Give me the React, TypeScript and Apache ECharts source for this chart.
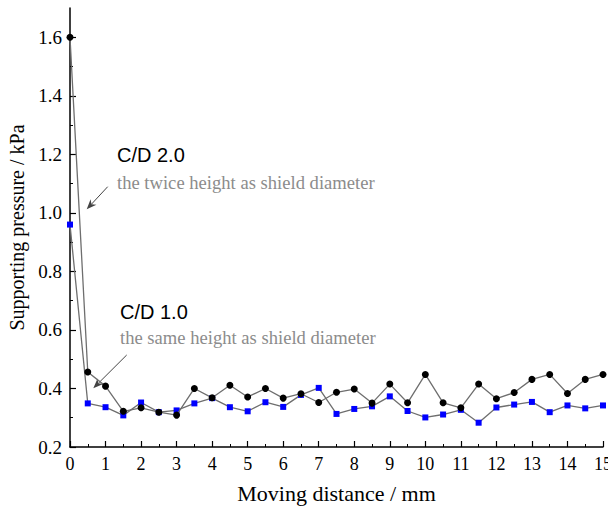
import React, { useEffect, useRef } from "react";
import * as echarts from "echarts";

const distances = [0, 0.5, 1, 1.5, 2, 2.5, 3, 3.5, 4, 4.5, 5, 5.5, 6, 6.5, 7, 7.5, 8, 8.5, 9, 9.5, 10, 10.5, 11, 11.5, 12, 12.5, 13, 13.5, 14, 14.5, 15];
const cd20 = [1.6, 0.456, 0.408, 0.322, 0.334, 0.319, 0.309, 0.4, 0.368, 0.411, 0.371, 0.4, 0.367, 0.382, 0.352, 0.387, 0.398, 0.35, 0.415, 0.351, 0.448, 0.351, 0.334, 0.415, 0.365, 0.386, 0.431, 0.448, 0.383, 0.431, 0.448];
const cd10 = [0.96, 0.349, 0.336, 0.308, 0.352, 0.319, 0.325, 0.349, 0.367, 0.336, 0.322, 0.353, 0.337, 0.378, 0.402, 0.313, 0.33, 0.339, 0.373, 0.323, 0.301, 0.311, 0.327, 0.283, 0.335, 0.345, 0.354, 0.319, 0.342, 0.332, 0.342];
const yMajorTicks = [0.2, 0.4, 0.6, 0.8, 1.0, 1.2, 1.4, 1.6];
const yMinorTicks = [0.3, 0.5, 0.7, 0.9, 1.1, 1.3, 1.5];

const serif = "'Liberation Serif', 'Times New Roman', serif";
const sans = "'Liberation Sans', Arial, sans-serif";

function arrow(x1: number, y1: number, x2: number, y2: number) {
  const dx = x2 - x1;
  const dy = y2 - y1;
  const len = Math.sqrt(dx * dx + dy * dy);
  const ux = dx / len;
  const uy = dy / len;
  const hl = 10;
  const hw = 4;
  const bx = x2 - ux * hl;
  const by = y2 - uy * hl;
  const nx = -uy;
  const ny = ux;
  const mx = x2 - ux * hl * 0.7;
  const my = y2 - uy * hl * 0.7;
  return [
    { type: "line", shape: { x1, y1, x2: mx, y2: my }, style: { stroke: "#444", lineWidth: 1 } },
    {
      type: "polygon",
      shape: { points: [[x2, y2], [bx + nx * hw, by + ny * hw], [mx, my], [bx - nx * hw, by - ny * hw]] },
      style: { fill: "#444" },
    },
  ];
}

export default function App() {
  const ref = useRef<HTMLDivElement>(null);
  useEffect(() => {
    if (!ref.current) return;
    const chart = echarts.init(ref.current, null, { renderer: "svg" });
    chart.setOption({
      animation: false,
      backgroundColor: "#fff",
      grid: { left: 70, right: 5, top: 8, bottom: 63, containLabel: false, outerBoundsMode: "none" },
      xAxis: {
        type: "value",
        min: 0,
        max: 15,
        interval: 1,
        name: "Moving distance / mm",
        nameLocation: "middle",
        nameGap: 35,
        nameTextStyle: { fontFamily: serif, fontSize: 22, color: "#000", verticalAlign: "top" },
        axisLine: { show: true, lineStyle: { color: "#000", width: 1.5 } },
        axisTick: { show: true, inside: true, length: 6, lineStyle: { color: "#000", width: 1.2 } },
        minorTick: { show: true, splitNumber: 2, length: 3, lineStyle: { color: "#000", width: 1 } },
        axisLabel: { fontFamily: serif, fontSize: 18, color: "#000", margin: 8 },
        splitLine: { show: false },
      },
      yAxis: [
        {
          type: "value",
          min: 0.2,
          max: 1.7,
          interval: 0.1,
          name: "Supporting pressure / kPa",
          nameLocation: "middle",
          nameGap: 38,
          nameTextStyle: { fontFamily: serif, fontSize: 20, color: "#000" },
          axisLine: { show: true, lineStyle: { color: "#000", width: 1.5 } },
          axisTick: { show: true, inside: true, length: 6, customValues: yMajorTicks, lineStyle: { color: "#000", width: 1.2 } },
          axisLabel: {
            fontFamily: serif,
            fontSize: 19,
            color: "#000",
            margin: 8,
            customValues: yMajorTicks,
            formatter: (v: number) => v.toFixed(1),
          },
          splitLine: { show: false },
        },
        {
          type: "value",
          min: 0.2,
          max: 1.7,
          interval: 0.1,
          position: "left",
          axisLine: { show: false },
          axisTick: { show: true, inside: true, length: 3, customValues: yMinorTicks, lineStyle: { color: "#000", width: 1 } },
          axisLabel: { show: false },
          splitLine: { show: false },
        },
      ],
      series: [
        {
          name: "C/D 1.0",
          type: "line",
          yAxisIndex: 0,
          data: distances.map((d, i) => [d, cd10[i]]),
          symbol: "rect",
          symbolSize: 6,
          itemStyle: { color: "#0000ff" },
          lineStyle: { color: "#6e6e6e", width: 1.3 },
          z: 2,
        },
        {
          name: "C/D 2.0",
          type: "line",
          yAxisIndex: 0,
          data: distances.map((d, i) => [d, cd20[i]]),
          symbol: "circle",
          symbolSize: 7,
          itemStyle: { color: "#000" },
          lineStyle: { color: "#6e6e6e", width: 1.3 },
          z: 3,
        },
      ],
      graphic: [
        { type: "text", x: 117, y: 165, style: { text: "C/D 2.0", fontFamily: sans, fontSize: 20, fill: "#000", textVerticalAlign: "bottom" } },
        { type: "text", x: 117, y: 192, style: { text: "the twice height as shield diameter", fontFamily: serif, fontSize: 18.6, fill: "#8c8c8c", textVerticalAlign: "bottom" } },
        { type: "text", x: 120, y: 322, style: { text: "C/D 1.0", fontFamily: sans, fontSize: 20, fill: "#000", textVerticalAlign: "bottom" } },
        { type: "text", x: 120, y: 347, style: { text: "the same height as shield diameter", fontFamily: serif, fontSize: 18.6, fill: "#8c8c8c", textVerticalAlign: "bottom" } },
        ...arrow(107.7, 186.7, 86.7, 209.3),
        ...arrow(126.7, 355, 93.3, 388.3),
      ],
    });
    return () => chart.dispose();
  }, []);
  return <div ref={ref} style={{ position: "fixed", left: 0, top: 0, width: 608, height: 510 }} />;
}
